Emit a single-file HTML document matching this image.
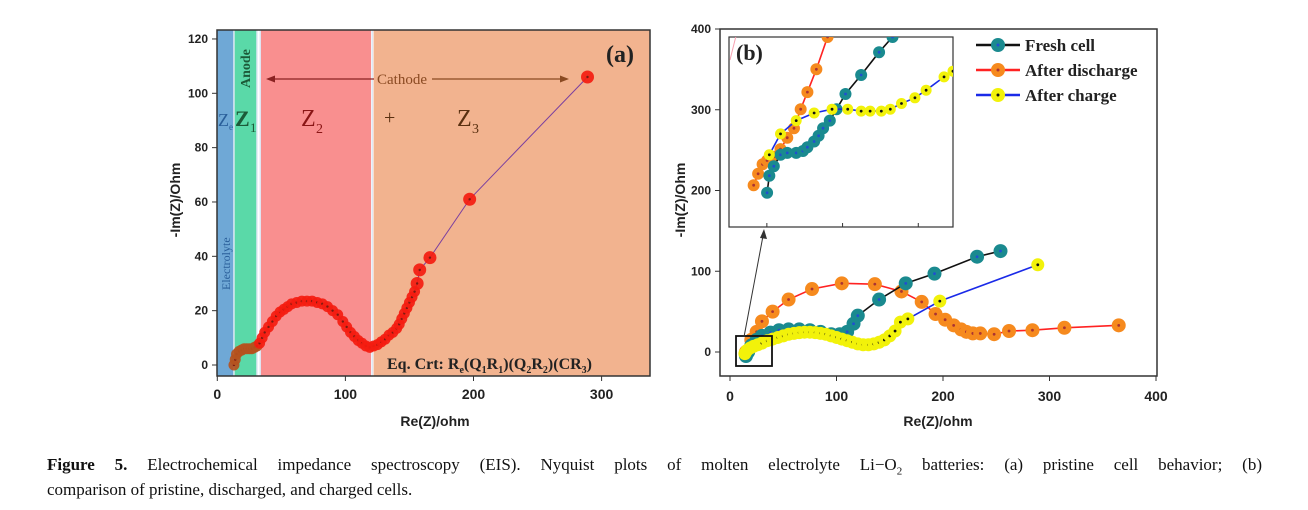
<!DOCTYPE html>
<html><head><meta charset="utf-8"><style>
body{margin:0;background:#fff;width:1308px;height:510px;overflow:hidden;position:relative}
svg text{font-family:"Liberation Sans",sans-serif}
.serif{font-family:"Liberation Serif",serif}
.cap{position:absolute;left:47px;width:1215px;font-family:"Liberation Serif",serif;font-size:17px;line-height:25px;color:#111;white-space:nowrap}
#cap1{top:452px;text-align:justify;text-align-last:justify}
#cap2{top:477px}
.cap sub{font-size:11px;line-height:0}
</style></head><body>
<svg id="fig" width="1308" height="450" viewBox="0 0 1308 450" style="position:absolute;left:0;top:0">
<g id="pa"></g>
<g id="pb"></g>
</svg>
<div id="cap1" class="cap"><b>Figure 5.</b> Electrochemical impedance spectroscopy (EIS). Nyquist plots of molten electrolyte Li−O<sub>2</sub> batteries: (a) pristine cell behavior; (b)</div>
<div id="cap2" class="cap">comparison of pristine, discharged, and charged cells.</div>
<script>
const NS="http://www.w3.org/2000/svg";
function mk(p,t,a,txt){const e=document.createElementNS(NS,t);for(const k in a)e.setAttribute(k,a[k]);if(txt!==undefined)e.textContent=txt;p.appendChild(e);return e;}
// ---------- Panel A data ----------
const aX=[13,14,15,17,19,21,23,25,27,29,31,33,35,37,40,43,46,49,52,55,58,62,66,70,74,78,82,86,90,94,98,101,104,107,110,113,116,119,122,125,128,131,134,137,140,142,144,146,148,150,152,154,156,158,166,197,289];
const aY=[0,2,4,5,5.5,6,6,6,6,6.5,7,8,10,12,14,16,18,19.5,20.5,21.5,22.5,23,23.5,23.5,23.5,23,22.5,21.5,20,18.5,16,14,12,10.5,9,8,7,6.5,7,7.5,8.5,9.5,11,12,13.5,15,17,19,21,23,25,27,30,35,39.5,61,106];
const aXTicks=[0,100,200,300];
const aYTicks=[0,20,40,60,80,100,120];
const aBands=[[0,13,'#6fa8d6'],[13,31,'#5ad9a8'],[33.5,120,'#f98f8f'],[122,338,'#f2b38f']];
// ---------- Panel B data ----------
const bFreshX=[15,17,20,25,30,38,46,55,65,75,85,95,103,110,116,120,140,165,192,232,254];
const bFreshY=[-5,0,8,15,20,24,27,28,28,27,25,22,22,25,35,45,65,85,97,118,125];
const bDisX=[15,20,25,30,40,55,77,105,136,161,180,193,202,210,217,222,228,235,248,262,284,314,365];
const bDisY=[0,15,25,38,50,65,78,85,84,75,62,47,40,33,28,25,23,23,22,26,27,30,33];
const bChgX=[14,16,19,22,26,30,35,40,45,50,55,60,65,70,75,80,85,90,95,100,105,110,115,120,125,130,135,140,145,150,155,160,167,197,289];
const bChgY=[-2,2,5,7,9,11,14,16,18,20,22,23,24,24.5,24.5,24,23,22,20,18,16,14,12,10,9,9,10,12,15,20,26,37,41,63,108];
const bXTicks=[0,100,200,300,400];
const bYTicks=[0,100,200,300,400];
// inset (normalized 0-100 inset coordinates)
const iFreshX=[17,18,20,23,26,30,33,35,38,40,42,45,48,52,59,67,73];
const iFreshY=[18,27,32,38,39,39,40,42,45,48,52,56,62,70,80,92,100];
const iDisX=[11,13,15,17,20,23,26,29,32,35,39,44];
const iDisY=[22,28,33,35,37,41,47,52,62,71,83,100];
const iChgX=[18,23,30,38,46,53,59,63,68,72,77,83,88,96,100];
const iChgY=[38,49,56,60,62,62,61,61,61,62,65,68,72,79,82];

// ===== Panel A =====
const A=document.getElementById('pa');
const ax=v=>217.3+v*1.281, ay=v=>365-v*2.717;
aBands.forEach((b,i)=>{const r=mk(A,'rect',{x:ax(b[0]),y:30,width:ax(b[1])-ax(b[0]),height:346,fill:b[2]});
});
[13,31,33.5,121].forEach(s=>mk(A,'line',{x1:ax(s),x2:ax(s),y1:30,y2:376,stroke:'#dfe8f5','stroke-width':1.5}));
const aLine=mk(A,'polyline',{points:aX.map((x,i)=>ax(x)+','+ay(aY[i])).join(' '),fill:'none',stroke:'#7a3fa0','stroke-width':1});

aX.forEach((x,i)=>{const big=i>=aX.length-5;const col=x<32?'#b5521e':'#f41c10';
const c=mk(A,'circle',{cx:ax(x),cy:ay(aY[i]),r:big?6.5:5.5,fill:col,opacity:0.92});

mk(A,'circle',{cx:ax(x),cy:ay(aY[i]),r:1.2,fill:'#7a1a10'});});
mk(A,'rect',{x:217,y:30,width:433,height:346,fill:'none',stroke:'#333','stroke-width':1.5});
aXTicks.forEach(t=>{mk(A,'line',{x1:ax(t),x2:ax(t),y1:376,y2:381,stroke:'#333'});
const l=mk(A,'text',{x:ax(t),y:399,'font-size':14,'font-weight':'bold','text-anchor':'middle',fill:'#222'},t);
});
aYTicks.forEach(t=>{mk(A,'line',{x1:212,x2:217,y1:ay(t),y2:ay(t),stroke:'#333'});
const l=mk(A,'text',{x:208,y:ay(t)+4,'font-size':12,'font-weight':'bold','text-anchor':'end',fill:'#222'},t);
});
let t;
t=mk(A,'text',{x:435,y:426,'font-size':14,'font-weight':'bold','text-anchor':'middle',fill:'#222'},'Re(Z)/ohm');
t=mk(A,'text',{x:0,y:0,'font-size':14,'font-weight':'bold','text-anchor':'middle',fill:'#222',transform:'translate(180,200) rotate(-90)'},'-Im(Z)/Ohm');
t=mk(A,'text',{x:620,y:62,'font-size':24,'font-weight':'bold','text-anchor':'middle',class:'serif',fill:'#222'},'(a)');
t=mk(A,'text',{x:402,y:84,'font-size':15,'text-anchor':'middle',class:'serif',fill:'#8a4a22'},'Cathode');
mk(A,'line',{x1:374,x2:270,y1:79,y2:79,stroke:'#8a2222','stroke-width':1.2});
mk(A,'polygon',{points:'266,79 275,75.5 275,82.5',fill:'#8a2222'});
mk(A,'line',{x1:432,x2:565,y1:79,y2:79,stroke:'#8a4a22','stroke-width':1.2});
mk(A,'polygon',{points:'569,79 560,75.5 560,82.5',fill:'#8a4a22'});
t=mk(A,'text',{x:0,y:0,'font-size':14,'font-weight':'bold',class:'serif',fill:'#1c5a38',transform:'translate(250,88) rotate(-90)'},'Anode');
t=mk(A,'text',{x:0,y:0,'font-size':12,class:'serif',fill:'#2a5f9a',transform:'translate(230,290) rotate(-90)'},'Electrolyte');
t=mk(A,'text',{x:218,y:126,'font-size':18,class:'serif',fill:'#2a5f9a'},'Z');mk(A,'text',{x:229,y:130,'font-size':9,class:'serif',fill:'#2a5f9a'},'e');
t=mk(A,'text',{x:235,y:126,'font-size':22,'font-weight':'bold',class:'serif',fill:'#1c5a38'},'Z');mk(A,'text',{x:250,y:132,'font-size':13,class:'serif',fill:'#1c5a38'},'1');
t=mk(A,'text',{x:301,y:126,'font-size':24,class:'serif',fill:'#8a1515'},'Z');mk(A,'text',{x:316,y:133,'font-size':14,class:'serif',fill:'#8a1515'},'2');
t=mk(A,'text',{x:384,y:124,'font-size':20,class:'serif',fill:'#5a3010'},'+');
t=mk(A,'text',{x:457,y:126,'font-size':24,class:'serif',fill:'#5a3010'},'Z');mk(A,'text',{x:472,y:133,'font-size':14,class:'serif',fill:'#5a3010'},'3');
t=mk(A,'text',{x:387,y:369,'font-size':16,'font-weight':'bold',class:'serif',fill:'#222'},'');
t.innerHTML='Eq. Crt: R<tspan font-size="10" dy="4">e</tspan><tspan dy="-4">(Q</tspan><tspan font-size="10" dy="4">1</tspan><tspan dy="-4">R</tspan><tspan font-size="10" dy="4">1</tspan><tspan dy="-4">)(Q</tspan><tspan font-size="10" dy="4">2</tspan><tspan dy="-4">R</tspan><tspan font-size="10" dy="4">2</tspan><tspan dy="-4">)(CR</tspan><tspan font-size="10" dy="4">3</tspan><tspan dy="-4">)</tspan>';

// ===== Panel B =====
const B=document.getElementById('pb');
const bx=v=>730+v*1.065, by=v=>352-v*0.8075;
function series(g,X,Y,fx,fy,lineCol,fill,dot,r,name){
 const pl=mk(g,'polyline',{points:X.map((x,i)=>fx(x)+','+fy(Y[i])).join(' '),fill:'none',stroke:lineCol,'stroke-width':1.6});
 
 X.forEach((x,i)=>{const c=mk(g,'circle',{cx:fx(x),cy:fy(Y[i]),r:r,fill:fill});
 
 mk(g,'circle',{cx:fx(x),cy:fy(Y[i]),r:1.4,fill:dot});});
}
mk(B,'rect',{x:720,y:29,width:437,height:347,fill:'#fff',stroke:'#333','stroke-width':1.5});
series(B,bDisX,bDisY,bx,by,'#f22','#f68a1e','#a33',7,'after-discharge');
series(B,bFreshX,bFreshY,bx,by,'#111','#1a8a8f','#2050d0',7,'fresh-cell');
series(B,bChgX,bChgY,bx,by,'#1a2ae8','#f2f20a','#111',6.5,'after-charge');
bXTicks.forEach(v=>{mk(B,'line',{x1:bx(v),x2:bx(v),y1:376,y2:381,stroke:'#333'});
const l=mk(B,'text',{x:bx(v),y:401,'font-size':14,'font-weight':'bold','text-anchor':'middle',fill:'#222'},v);
});
bYTicks.forEach(v=>{mk(B,'line',{x1:715,x2:720,y1:by(v),y2:by(v),stroke:'#333'});
const l=mk(B,'text',{x:711,y:by(v)+4,'font-size':12,'font-weight':'bold','text-anchor':'end',fill:'#222'},v);
});
t=mk(B,'text',{x:938,y:426,'font-size':14,'font-weight':'bold','text-anchor':'middle',fill:'#222'},'Re(Z)/ohm');
t=mk(B,'text',{x:0,y:0,'font-size':14,'font-weight':'bold','text-anchor':'middle',fill:'#222',transform:'translate(685,200) rotate(-90)'},'-Im(Z)/Ohm');
t=mk(B,'rect',{x:736,y:336,width:36,height:30,fill:'none',stroke:'#111','stroke-width':1.8});
mk(B,'line',{x1:744,y1:337,x2:763,y2:236,stroke:'#333','stroke-width':1});
mk(B,'polygon',{points:'764,229 760,238 767,239',fill:'#333'});
// inset
const I=mk(B,'g',{});
const ix=v=>729+v*2.24, iy=v=>227-v*1.9;
mk(I,'rect',{x:729,y:37,width:224,height:190,fill:'#fff',stroke:'#333','stroke-width':1.2});
mk(I,'defs',{}).innerHTML='<clipPath id="ic"><rect x="729" y="37" width="224" height="190"/></clipPath>';
const IC=mk(I,'g',{'clip-path':'url(#ic)'});
mk(IC,'line',{x1:730,y1:60,x2:740,y2:20,stroke:'#f7a0b0','stroke-width':1});
series(IC,iDisX,iDisY,ix,iy,'#f22','#f68a1e','#a33',6,'inset-after-discharge');
series(IC,iFreshX,iFreshY,ix,iy,'#111','#1a8a8f','#2050d0',6,'inset-fresh-cell');
series(IC,iChgX,iChgY,ix,iy,'#1a2ae8','#f2f20a','#111',5.5,'inset-after-charge');
[0.13,0.39,0.65].forEach(f=>mk(I,'line',{x1:729+224*f*1.3,x2:729+224*f*1.3,y1:227,y2:223,stroke:'#333'}));
t=mk(I,'text',{x:736,y:60,'font-size':22,'font-weight':'bold',class:'serif',fill:'#222'},'(b)');
// legend
const legend=[['Fresh cell','#111','#1a8a8f','#2050d0'],['After discharge','#f22','#f68a1e','#a33'],['After charge','#1a2ae8','#f2f20a','#111']];
legend.forEach((L,i)=>{const y=45+i*25;const g=mk(B,'g',{});

mk(g,'line',{x1:976,x2:1020,y1:y,y2:y,stroke:L[1],'stroke-width':2.5});
mk(g,'circle',{cx:998,cy:y,r:7,fill:L[2]});mk(g,'circle',{cx:998,cy:y,r:1.5,fill:L[3]});
mk(g,'text',{x:1025,y:y+6,'font-size':17,'font-weight':'bold',class:'serif',fill:'#222'},L[0]);});
</script>
</body></html>
